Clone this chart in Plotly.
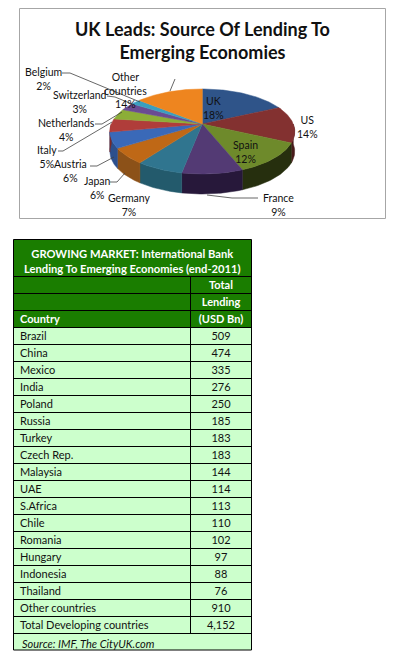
import math
import plotly.graph_objects as go

# ---- data
pie_labels = ["UK", "US", "Spain", "France", "Germany", "Japan", "Austria", "Italy",
              "Netherlands", "Switzerland", "Belgium", "Other<br>countries"]
pie_shares = [18, 14, 12, 9, 7, 6, 6, 5, 4, 3, 2, 14]
pie_colors = ["#2F5489", "#833130", "#6E8A2B", "#533A74", "#30758F", "#BF6816",
              "#3A69B8", "#B03D3A", "#8CAE37", "#6A4B92", "#3A9FBF", "#EE851F"]
side_colors = ["#1A2E4C", "#481B1A", "#262F0E", "#27183A", "#235A6C", "#8C5118",
               "#2C4F8C", "#7A2A28", "#5F7725", "#473163", "#286F85", "#A55C15"]
countries = ["Brazil", "China", "Mexico", "India", "Poland", "Russia", "Turkey", "Czech Rep.",
             "Malaysia", "UAE", "S.Africa", "Chile", "Romania", "Hungary", "Indonesia",
             "Thailand", "Other countries", "Total Developing countries"]
lending = ["509", "474", "335", "276", "250", "185", "183", "183", "144", "114", "113",
           "110", "102", "97", "88", "76", "910", "4,152"]
header_col1 = ["", "", "<b>Country</b>"]
header_col2 = ["<b>Total</b>", "<b>Lending</b>", "<b>(USD Bn)</b>"]
chart_title = "<b>UK Leads: Source Of Lending To<br>Emerging Economies</b>"
table_title = "<b>GROWING MARKET: International Bank<br>Lending To Emerging Economies (end-2011)</b>"
source_note = "<i>Source: IMF, The CityUK.com</i>"

FONT = "Lato, Carlito, Calibri, sans-serif"
W, H = 395, 661
CX, CY, RX, RZ, K, DEPTH = 202.3, 124, 91, 41.2, 0.176, 20


def project(frac):
    a = 2 * math.pi * frac
    X, Z = math.sin(a), -math.cos(a)
    s = 1 / (1 - K * Z)
    return CX + RX * X * s, CY + RZ * Z * s, Z


fig = go.Figure()
fig.add_shape(type="rect", x0=19.5, y0=8.5, x1=385.5, y1=218.5,
              line=dict(color="#A6A6A6", width=1), fillcolor="white", layer="below")

# slice outlines, from the shares
total = sum(pie_shares)
cum = 0
arcs = []
for share in pie_shares:
    n = max(4, share * 3)
    arcs.append([project((cum + share * i / n) / total) for i in range(n + 1)])
    cum += share

# side wall of the pie
for arc, col in zip(arcs, side_colors):
    front = [p for p in arc if p[2] > -0.02]
    if len(front) < 2:
        continue
    xs = [p[0] for p in front] + [p[0] for p in reversed(front)] + [front[0][0]]
    ys = [p[1] for p in front] + [p[1] + DEPTH for p in reversed(front)] + [front[0][1]]
    fig.add_trace(go.Scatter(x=xs, y=ys, mode="lines", fill="toself", fillcolor=col,
                             line=dict(color=col, width=0.5), hoverinfo="skip", showlegend=False))
# top face
for arc, col in zip(arcs, pie_colors):
    xs = [CX] + [p[0] for p in arc] + [CX]
    ys = [CY] + [p[1] for p in arc] + [CY]
    fig.add_trace(go.Scatter(x=xs, y=ys, mode="lines", fill="toself", fillcolor=col,
                             line=dict(color=col, width=0.5), hoverinfo="skip", showlegend=False))

# leader lines
leaders = [
    [(62, 73), (70, 73), (140, 102)],
    [(107, 96), (115, 97), (132, 104)],
    [(95, 124), (102, 124), (122, 112)],
    [(58, 151), (63, 151), (112, 122)],
    [(90, 166), (97, 166), (114, 157)],
    [(110, 182), (117, 182), (125, 173)],
    [(258, 198), (232, 198), (207, 195)],
    [(170, 91), (175, 79)],
]
for pts in leaders:
    fig.add_trace(go.Scatter(x=[p[0] for p in pts], y=[p[1] for p in pts], mode="lines",
                             line=dict(color="#404040", width=0.8), hoverinfo="skip", showlegend=False))

# data labels
label_pos = [(213, 108), (307, 127), (245, 152), (278, 204.5), (129, 204.5), (97, 188),
             (70, 171), (47, 157), (66, 130), (79.5, 102), (43, 79), (125, 90)]
for name, share, (x, y) in zip(pie_labels, pie_shares, label_pos):
    fig.add_annotation(x=x, y=y, text=f"{name}<br>{share}%", showarrow=False, xanchor="center",
                       yanchor="middle", font=dict(family=FONT, size=10.5, color="#111"))

fig.add_annotation(x=202.5, y=40.5, text=chart_title, showarrow=False, xanchor="center", yanchor="middle",
                   font=dict(family=FONT, size=18, color="#111"))

# ---- table
ROW = 17.0
GREEN, PALE = "#1A7D00", "#CCFFCC"
XL, XM, XR = 13.5, 190.5, 251.5
T0, T1 = 239.5, 276
n_rows = len(header_col1) + len(countries)
T_HDR = T1 + 3 * ROW
T_BODY = T1 + n_rows * ROW
T_END = T_BODY + ROW

fig.add_shape(type="rect", x0=XL, x1=XR, y0=T0, y1=T_HDR, fillcolor=GREEN, line_width=0, layer="below")
fig.add_shape(type="rect", x0=XL, x1=XR, y0=T_HDR, y1=T_END, fillcolor=PALE, line_width=0, layer="below")
LINE = dict(color="#000", width=1)
fig.add_shape(type="rect", x0=XL, x1=XR, y0=T0, y1=T_END, line=LINE)
fig.add_shape(type="line", x0=XM, x1=XM, y0=T1, y1=T_BODY, line=LINE)
for i in range(n_rows + 1):
    y = round(T1 + i * ROW) + 0.5
    fig.add_shape(type="line", x0=XL, x1=XR, y0=y, y1=y, line=LINE)

fig.add_annotation(x=(XL + XR) / 2, y=(T0 + T1) / 2 + 3.5, text=table_title, showarrow=False,
                   xanchor="center", yanchor="middle", font=dict(family=FONT, size=11.2, color="white"))

col1 = header_col1 + countries
col2 = header_col2 + lending
row_y = [T1 + (i + 0.5) * ROW + 2 for i in range(n_rows)]
text_colors = ["white"] * 3 + ["#111"] * len(countries)
fig.add_trace(go.Scatter(x=[XL + 6.5] * n_rows, y=row_y, text=col1, mode="text", textposition="middle right",
                         textfont=dict(family=FONT, size=11, color=text_colors),
                         hoverinfo="skip", showlegend=False))
fig.add_trace(go.Scatter(x=[(XM + XR) / 2] * n_rows, y=row_y, text=col2, mode="text", textposition="middle center",
                         textfont=dict(family=FONT, size=11, color=text_colors),
                         hoverinfo="skip", showlegend=False))
fig.add_annotation(x=XL + 6.5, y=T_BODY + ROW / 2 + 2, text=source_note, showarrow=False, xanchor="left",
                   yanchor="middle", font=dict(family=FONT, size=11, color="#111"))

fig.update_layout(width=W, height=H, margin=dict(l=0, r=0, t=0, b=0), paper_bgcolor="white",
                  plot_bgcolor="rgba(0,0,0,0)", showlegend=False,
                  xaxis=dict(range=[0, W], visible=False, domain=[0, 1]),
                  yaxis=dict(range=[H, 0], visible=False, domain=[0, 1]))
fig.write_html("out.html", config={"displayModeBar": False},
               post_script="document.body.style.margin='0';")
